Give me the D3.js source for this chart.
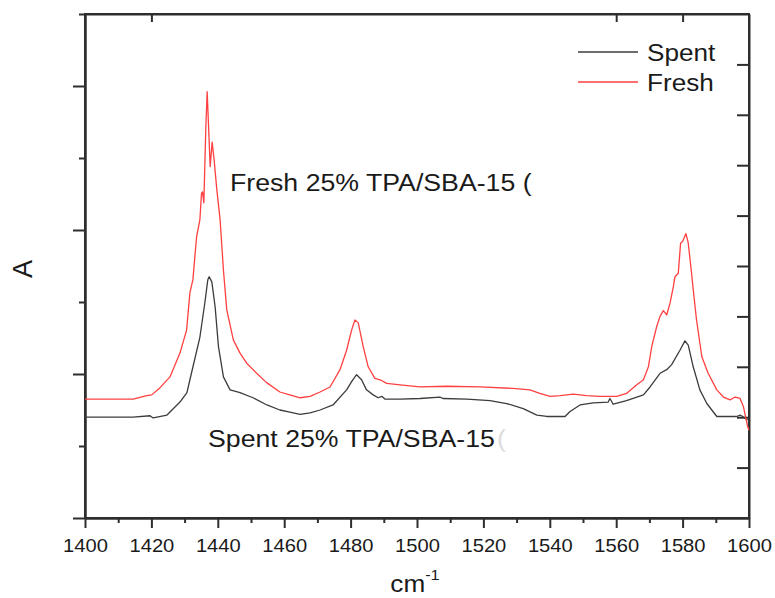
<!DOCTYPE html>
<html>
<head>
<meta charset="utf-8">
<script src="https://cdn.jsdelivr.net/npm/d3@7/dist/d3.min.js"></script>
<style>
  html, body { margin: 0; padding: 0; background: #fff; }
  svg { display: block; }
  text { font-family: "Liberation Sans", Arial, sans-serif; fill: #1a1a1a; }
</style>
</head>
<body>
<svg id="chart" width="775" height="598"></svg>
<script>
// Wavenumber (cm-1) and absorbance traces for the two catalyst samples
const spentWavenumber = [1400,1414.5,1419.6,1420.5,1424.7,1428.6,1430.7,1431.6,1434.6,1436.1,1437.0,1437.4,1438.2,1439.2,1440.2,1441.7,1443.7,1446.7,1450.6,1454.8,1458.7,1461.7,1464.8,1467.8,1470.8,1474.7,1478.8,1480.4,1481.8,1483.3,1484.8,1486.8,1488.3,1489.4,1490.4,1494.9,1500.9,1506.9,1507.8,1515.0,1522.0,1527.0,1532.0,1536.1,1539.1,1544.6,1546.1,1549.1,1553.1,1557.6,1558.1,1559.1,1563.1,1568.2,1570.2,1573.2,1575.2,1576.7,1579.2,1580.7,1581.7,1583.2,1585.2,1587.3,1590.3,1596.3,1597.3,1598.1,1599.6];
const spentAbsorbance = [0.140,0.140,0.142,0.139,0.143,0.161,0.174,0.192,0.251,0.299,0.331,0.335,0.328,0.293,0.238,0.196,0.178,0.174,0.167,0.157,0.150,0.147,0.144,0.146,0.150,0.157,0.178,0.190,0.199,0.192,0.178,0.171,0.167,0.169,0.165,0.165,0.166,0.168,0.166,0.165,0.163,0.159,0.152,0.143,0.141,0.141,0.148,0.157,0.160,0.161,0.166,0.158,0.163,0.171,0.182,0.201,0.206,0.213,0.233,0.246,0.240,0.210,0.178,0.159,0.141,0.141,0.143,0.141,0.136];

const freshWavenumber = [1400,1414.5,1418.6,1420.1,1422.6,1425.6,1428.6,1430.6,1431.6,1432.5,1433.6,1434.6,1435.1,1435.4,1435.8,1436.4,1436.8,1437.2,1437.7,1438.3,1438.9,1439.7,1440.7,1441.7,1442.7,1444.7,1446.7,1448.7,1451.7,1454.7,1458.7,1461.7,1464.8,1467.8,1470.8,1473.8,1476.8,1478.8,1480.3,1481.3,1482.3,1483.8,1485.3,1487.3,1488.9,1490.9,1494.9,1500.9,1508.9,1519.0,1528.9,1534.0,1537.0,1540.1,1543.1,1547.1,1551.1,1555.1,1560.2,1563.1,1566.2,1568.2,1569.7,1570.7,1572.2,1573.2,1574.2,1575.2,1576.2,1577.2,1577.7,1578.7,1579.4,1580.0,1581.0,1581.7,1582.7,1583.2,1584.2,1585.8,1587.7,1590.3,1592.3,1594.3,1595.8,1597.3,1598.3,1599.6,1600];
const freshAbsorbance = [0.165,0.165,0.170,0.171,0.181,0.196,0.229,0.261,0.313,0.331,0.390,0.414,0.451,0.453,0.438,0.543,0.592,0.546,0.488,0.522,0.497,0.456,0.414,0.344,0.289,0.247,0.229,0.215,0.201,0.188,0.175,0.171,0.167,0.169,0.175,0.182,0.206,0.233,0.261,0.275,0.271,0.238,0.210,0.194,0.192,0.187,0.185,0.182,0.183,0.182,0.180,0.178,0.173,0.169,0.170,0.172,0.170,0.169,0.169,0.173,0.185,0.192,0.210,0.238,0.266,0.280,0.288,0.282,0.298,0.321,0.335,0.340,0.382,0.384,0.395,0.382,0.340,0.317,0.275,0.224,0.201,0.178,0.168,0.164,0.168,0.166,0.155,0.127,0.122];

const seriesNames = ["Spent", "Fresh"];
const xMajorTicks = [1400,1420,1440,1460,1480,1500,1520,1540,1560,1580,1600];
const xMinorTicks = [1410,1430,1450,1470,1490,1510,1530,1550,1570,1590];
const xTopTicks = [1420,1560,1580];
const yMajorTicks = [0,0.2,0.4,0.6];
const yMinorTicks = [0.1,0.3,0.5,0.7];
const rightTicks = [1,2,3,4,5,6,7,8,9];

const svg = d3.select("#chart");
const plotLeft = 85, plotRight = 749, plotTop = 14, plotBottom = 518;
const stretch = 1.09;
const axisColor = "#2e2e2e";

const x = d3.scaleLinear().domain([1400, 1600]).range([plotLeft, plotRight]);
const y = d3.scaleLinear().domain([0, 0.7]).range([plotBottom, plotTop]);
const yRight = d3.scaleLinear().domain([0, 10]).range([plotBottom, plotTop]);

function styleAxis(g) {
  g.selectAll("path").attr("stroke", axisColor).attr("stroke-width", 2);
  g.selectAll("line").attr("stroke", axisColor).attr("stroke-width", 2);
}

// bottom axis: minor and major ticks outward, labels under majors
svg.append("g").attr("transform", `translate(0,${plotBottom})`)
  .call(d3.axisBottom(x).tickValues(xMinorTicks).tickSize(5).tickSizeOuter(0).tickFormat(""))
  .call(styleAxis);
const xAxisG = svg.append("g").attr("transform", `translate(0,${plotBottom})`)
  .call(d3.axisBottom(x).tickValues(xMajorTicks).tickSize(10).tickSizeOuter(0).tickFormat(d3.format("d")))
  .call(styleAxis);
xAxisG.selectAll("text")
  .attr("y", 34).attr("dy", null)
  .attr("font-size", 18.5)
  .attr("font-family", "Liberation Sans, Arial, sans-serif")
  .attr("fill", "#1a1a1a")
  .attr("transform", `scale(${stretch},1)`);

// top axis: short inward ticks
svg.append("g").attr("transform", `translate(0,${plotTop})`)
  .call(d3.axisBottom(x).tickValues(xTopTicks).tickSize(8).tickSizeOuter(0).tickFormat(""))
  .call(styleAxis);

// left axis: outward ticks, no labels
svg.append("g").attr("transform", `translate(${plotLeft},0)`)
  .call(d3.axisLeft(y).tickValues(yMinorTicks).tickSize(6).tickSizeOuter(0).tickFormat(""))
  .call(styleAxis);
svg.append("g").attr("transform", `translate(${plotLeft},0)`)
  .call(d3.axisLeft(y).tickValues(yMajorTicks).tickSize(12).tickSizeOuter(0).tickFormat(""))
  .call(styleAxis);

// right axis: inward ticks
svg.append("g").attr("transform", `translate(${plotRight},0)`)
  .call(d3.axisLeft(yRight).tickValues(rightTicks).tickSize(12).tickSizeOuter(0).tickFormat(""))
  .call(styleAxis);

// frame
svg.append("rect")
  .attr("x", plotLeft).attr("y", plotTop)
  .attr("width", plotRight - plotLeft).attr("height", plotBottom - plotTop)
  .attr("fill", "none").attr("stroke", axisColor).attr("stroke-width", 2);

// traces
const line = d3.line().x(d => x(d[0])).y(d => y(d[1]));
const spent = d3.zip(spentWavenumber, spentAbsorbance);
const fresh = d3.zip(freshWavenumber, freshAbsorbance);
const colors = { Spent: "#3c3c3c", Fresh: "#ff4040" };

svg.append("path").datum(spent)
  .attr("d", line).attr("fill", "none")
  .attr("stroke", colors.Spent).attr("stroke-width", 1.3)
  .attr("stroke-linejoin", "round");
svg.append("path").datum(fresh)
  .attr("d", line).attr("fill", "none")
  .attr("stroke", colors.Fresh).attr("stroke-width", 1.3)
  .attr("stroke-linejoin", "round");

// stretched text helper
function label(tx, ty, str, size, anchor) {
  return svg.append("text")
    .attr("transform", `translate(${tx},${ty}) scale(${stretch},1)`)
    .attr("font-size", size)
    .attr("text-anchor", anchor || "start")
    .text(str);
}

// legend
seriesNames.forEach((name, i) => {
  const ly = 52 + i * 30;
  svg.append("line")
    .attr("x1", 578).attr("x2", 638).attr("y1", ly).attr("y2", ly)
    .attr("stroke", colors[name]).attr("stroke-width", 1.3);
  label(647, ly + 9, name, 24);
});

// sample annotations
svg.append("clipPath").attr("id", "annotClip")
  .append("rect").attr("x", 0).attr("y", 0).attr("width", 535).attr("height", 598);
svg.append("g").attr("clip-path", "url(#annotClip)")
  .append("text")
  .attr("transform", `translate(230,191) scale(${stretch},1)`)
  .attr("font-size", 24.5)
  .text("Fresh 25% TPA/SBA-15 (");
label(208, 447, "Spent 25% TPA/SBA-15", 24.5);
label(497, 447, " (", 24.5).style("fill", "#dcdcdc");

// axis titles
svg.append("text")
  .attr("transform", "translate(32,269) rotate(-90)")
  .attr("font-size", 27)
  .attr("text-anchor", "middle")
  .text("A");

const xt = label(415, 592, "", 24, "middle");
xt.append("tspan").text("cm");
xt.append("tspan").attr("font-size", 15).attr("dy", -12).text("-1");
</script>
</body>
</html>
